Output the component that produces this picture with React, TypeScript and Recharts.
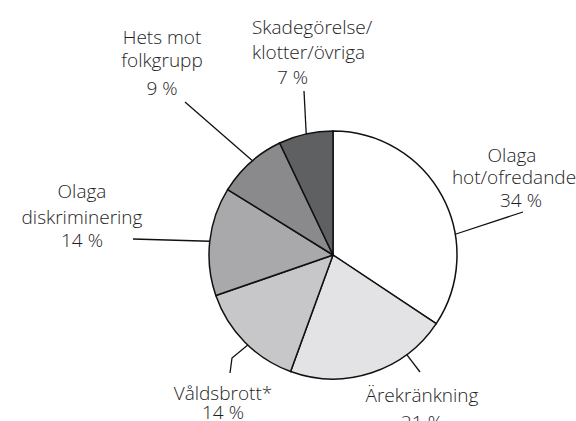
import { Pie, PieChart, Cell } from 'recharts';

const categories = [
  'Olaga hot/ofredande',
  'Ärekränkning',
  'Våldsbrott*',
  'Olaga diskriminering',
  'Hets mot folkgrupp',
  'Skadegörelse/klotter/övriga',
];

const shares = [34, 21, 14, 14, 9, 7];

// label text split into lines, as printed
const labelLines = [
  ['Olaga', 'hot/ofredande', '34 %'],
  ['Ärekränkning', '21 %'],
  ['Våldsbrott*', '14 %'],
  ['Olaga', 'diskriminering', '14 %'],
  ['Hets mot', 'folkgrupp', '9 %'],
  ['Skadegörelse/', 'klotter/övriga', '7 %'],
];

const fills = ['#ffffff', '#e3e3e5', '#c7c7c9', '#a9a9ab', '#8a8a8c', '#5f6062'];

type LabelStyle = {
  at: number; // where along the slice the leader starts (0..1)
  path: [number, number][]; // leader points after the arc, offset from centre
  anchor: 'start' | 'middle' | 'end';
  lines: [number, number][]; // text position per line, offset from centre
};

const labelStyles: LabelStyle[] = [
  { at: 0.65, path: [[190, -43]], anchor: 'middle', lines: [[179, -100], [181, -78], [188, -55]] },
  { at: 0.26, path: [[87, 117]], anchor: 'middle', lines: [[89, 140], [89, 167]] },
  { at: 0.46, path: [[-101, 103], [-103, 118]], anchor: 'middle', lines: [[-110, 138], [-110, 157]] },
  { at: 0.5, path: [[-200, -16]], anchor: 'middle', lines: [[-251, -64], [-251, -38], [-251, -15]] },
  { at: 0.54, path: [[-148, -153]], anchor: 'middle', lines: [[-171, -218], [-171, -195], [-171, -167]] },
  { at: 0.51, path: [[-29, -164]], anchor: 'start', lines: [[-81, -228], [-81, -203], [-56, -178]] },
];

const data = categories.map((name, i) => ({ name, value: shares[i] }));

const RAD = Math.PI / 180;

function renderLabel(props: any) {
  const { cx, cy, outerRadius, index, startAngle, endAngle, midAngle } = props;
  const s = labelStyles[index];
  const a =
    startAngle != null && endAngle != null
      ? startAngle + (endAngle - startAngle) * s.at
      : midAngle;
  const x0 = cx + Math.cos(-a * RAD) * outerRadius;
  const y0 = cy + Math.sin(-a * RAD) * outerRadius;
  const pts = [[x0, y0], ...s.path.map(([dx, dy]) => [cx + dx, cy + dy])];
  return (
    <g key={`lbl-${index}`}>
      <polyline
        points={pts.map((p) => p.join(',')).join(' ')}
        fill="none"
        stroke="#111"
        strokeWidth={1.3}
      />
      {labelLines[index].map((t, j) => (
        <text
          key={j}
          x={cx + s.lines[j][0]}
          y={cy + s.lines[j][1]}
          textAnchor={s.anchor}
          dominantBaseline="central"
          fill="#1e1e1e"
          fontSize={19}
          fontWeight={300}
          fontFamily="'Open Sans', 'Liberation Sans', Arial, sans-serif"
        >
          {t}
        </text>
      ))}
    </g>
  );
}

export default function App() {
  return (
    <div style={{ position: 'absolute', left: 0, top: 0, background: '#fff' }}>
      <PieChart width={576} height={421}>
        <Pie
          data={data}
          dataKey="value"
          nameKey="name"
          cx={328}
          cy={250}
          outerRadius={124}
          startAngle={90}
          endAngle={-270}
          stroke="#111"
          strokeWidth={1.5}
          label={renderLabel}
          labelLine={false}
          isAnimationActive={false}
        >
          {data.map((d, i) => (
            <Cell key={d.name} fill={fills[i]} />
          ))}
        </Pie>
      </PieChart>
    </div>
  );
}
